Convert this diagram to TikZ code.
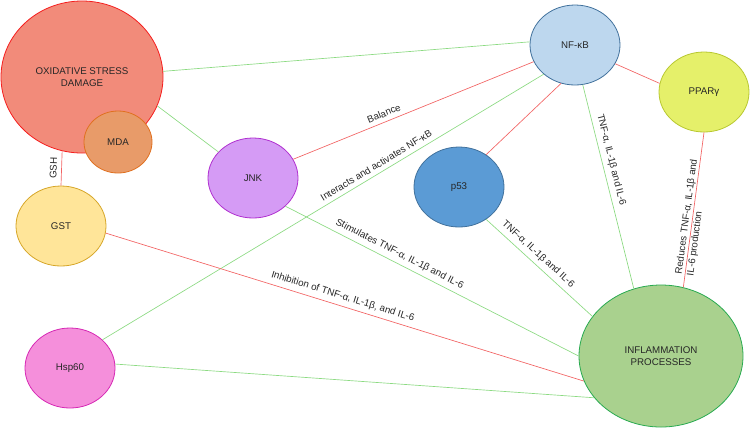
\documentclass[tikz,border=0pt]{standalone}
\usepackage{fontspec}
\setmainfont{Liberation Sans}
\usetikzlibrary{shapes.geometric}
\definecolor{osdfill}{RGB}{242,139,122}
\definecolor{osdline}{RGB}{245,30,30}
\definecolor{mdafill}{RGB}{232,155,105}
\definecolor{mdaline}{RGB}{224,112,32}
\definecolor{gstfill}{RGB}{255,229,153}
\definecolor{gstline}{RGB}{214,166,40}
\definecolor{hspfill}{RGB}{245,143,219}
\definecolor{hspline}{RGB}{214,40,180}
\definecolor{jnkfill}{RGB}{213,155,245}
\definecolor{jnkline}{RGB}{176,48,208}
\definecolor{pfsfill}{RGB}{91,155,213}
\definecolor{pfsline}{RGB}{65,113,156}
\definecolor{nfkfill}{RGB}{189,215,238}
\definecolor{nfkline}{RGB}{65,113,156}
\definecolor{pprfill}{RGB}{229,240,106}
\definecolor{pprline}{RGB}{184,200,48}
\definecolor{inffill}{RGB}{169,209,142}
\definecolor{infline}{RGB}{40,170,80}
\definecolor{linkgreen}{RGB}{140,218,130}
\definecolor{linkred}{RGB}{242,100,100}
\tikzset{
  factor/.style={draw, ellipse, inner sep=0pt, align=center, line width=0.6pt, text=black!85, font=\fontsize{7.3}{8.8}\selectfont},
  smallfactor/.style={factor, minimum width=67.5pt, minimum height=60pt},
  bigfactor/.style={factor, minimum width=122pt, minimum height=110pt},
  greenlink/.style={draw=linkgreen, line width=0.5pt},
  redlink/.style={draw=linkred, line width=0.5pt},
  linklabel/.style={sloped, text=black!85, font=\fontsize{7.3}{8.8}\selectfont}
}

\begin{document}
\begin{tikzpicture}[x=0.75pt, y=-0.75pt]
    \useasboundingbox (0,0) rectangle (752,430);

    \node[bigfactor, fill=osdfill, draw=osdline, minimum width=121.5pt, minimum height=114pt] (osd) at (82,77) {OXIDATIVE STRESS\\DAMAGE};
    \node[factor, fill=mdafill, draw=mdaline, minimum width=51pt, minimum height=46.5pt] (mda) at (118,142) {MDA};
    \node[smallfactor, fill=gstfill, draw=gstline] (gst) at (61,226) {GST};
    \node[smallfactor, fill=hspfill, draw=hspline] (hsp) at (70,368) {Hsp60};
    \node[smallfactor, fill=jnkfill, draw=jnkline] (jnk) at (253,178) {JNK};
    \node[smallfactor, fill=pfsfill, draw=pfsline] (p53) at (459,187) {p53};
    \node[smallfactor, fill=nfkfill, draw=nfkline] (nfkb) at (575,45) {NF-κB};
    \node[smallfactor, fill=pprfill, draw=pprline] (ppar) at (704,92) {PPARγ};
    \node[bigfactor, fill=inffill, draw=infline, minimum width=123pt, minimum height=106.5pt] (infl) at (661,356) {INFLAMMATION\\PROCESSES};

    \draw[greenlink] (osd.4) -- (nfkb.176);
    \draw[greenlink] (osd.-21) -- (jnk.143);
    \draw[redlink] (gst.north) -- node[linklabel, above] {GSH} (osd.-105);
    \draw[redlink] (jnk.25) -- node[linklabel, above, pos=0.39] {Balance} (nfkb.202);
    \draw[greenlink] (hsp.41) -- node[linklabel, above, pos=0.63] {Interacts and activates NF-κB} (nfkb.223);
    \draw[redlink] (p53.50) -- (nfkb.250);
    \draw[redlink] (nfkb.-25) -- (ppar.169);
    \draw[greenlink] (nfkb.-79) -- node[linklabel, above, pos=0.38] {TNF-α, IL-1β and IL-6} (infl.112);
    \draw[redlink] (ppar.south) -- node[linklabel, align=left, pos=0.55] {Reduces TNF-α, IL-1β and\\IL-6 production} (infl.72);
    \draw[greenlink] (p53.-50) -- node[linklabel, above, pos=0.43] {TNF-α, IL-1β and IL-6} (infl.150);
    \draw[greenlink] (jnk.-41) -- node[linklabel, above, pos=0.375] {Stimulates TNF-α, IL-1β and IL-6} (infl.180);
    \draw[redlink] (gst.-9) -- node[linklabel, above, pos=0.49] {Inhibition of TNF-α, IL-1β, and IL-6} (infl.198);
    \draw[greenlink] (hsp.5) -- (infl.212);
  \end{tikzpicture}
\end{document}
